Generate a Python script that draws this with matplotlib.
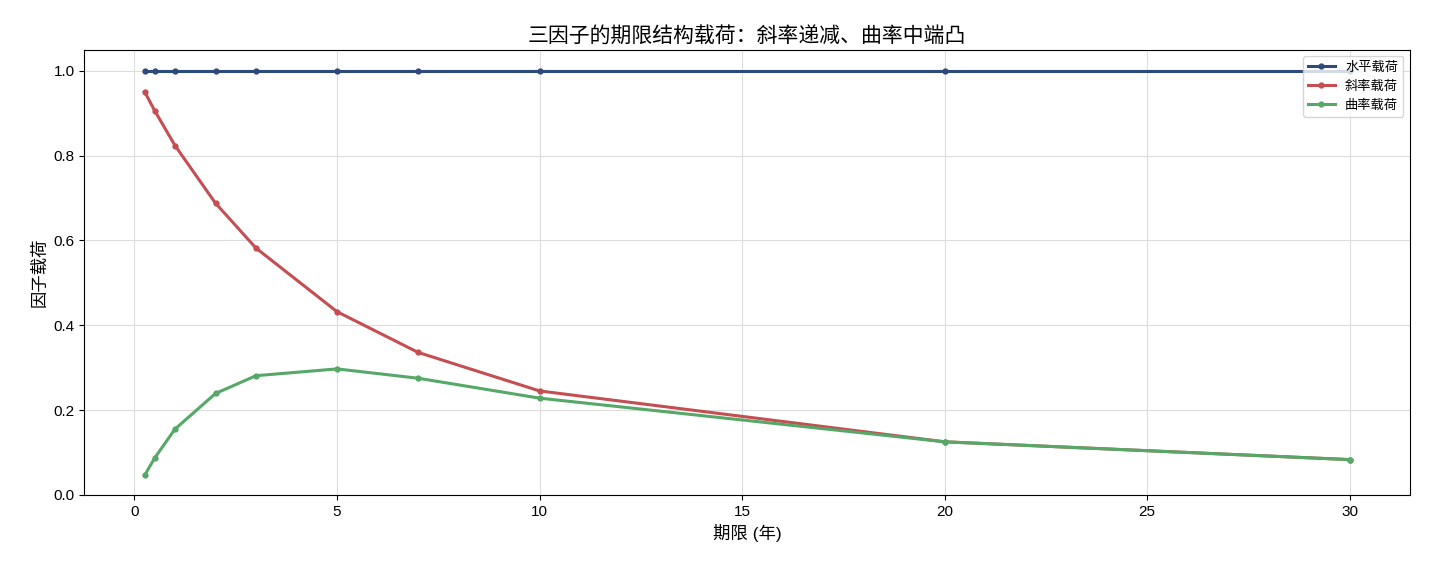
import matplotlib
matplotlib.use("Agg")
import matplotlib.pyplot as plt

# 期限 (年) and factor loadings
maturities = [0.25, 0.5, 1, 2, 3, 5, 7, 10, 20, 30]
level = [1.0, 1.0, 1.0, 1.0, 1.0, 1.0, 1.0, 1.0, 1.0, 1.0]
slope = [0.951, 0.906, 0.824, 0.688, 0.582, 0.432, 0.336, 0.245, 0.125, 0.083]
curvature = [0.046, 0.087, 0.155, 0.239, 0.281, 0.297, 0.275, 0.228, 0.125, 0.083]
labels = ["水平载荷", "斜率载荷", "曲率载荷"]

plt.rcParams['font.family'] = ['Liberation Sans', 'Noto Sans CJK SC', 'DejaVu Sans']
plt.rcParams['axes.unicode_minus'] = False

fig, ax = plt.subplots(figsize=(14.3, 5.72), dpi=100)
fig.subplots_adjust(left=0.059, right=0.986, top=0.913, bottom=0.135)

colors = ["#2E4A7D", "#C44E52", "#55A868"]
for series, lab, col in zip([level, slope, curvature], labels, colors):
    ax.plot(maturities, series, marker="o", markersize=3.5, linewidth=2.2,
            color=col, label=lab)

ax.set_ylim(0, 1.05)
ax.set_title("三因子的期限结构载荷：斜率递减、曲率中端凸", fontsize=15,
             family=['Noto Sans CJK SC', 'DejaVu Sans'])
ax.set_xlabel("期限 (年)", fontsize=12.5)
ax.set_ylabel("因子载荷", fontsize=12.5)
ax.tick_params(labelsize=11)
ax.grid(True, color="#dddddd", linewidth=0.8)
ax.set_axisbelow(True)
ax.legend(loc="upper right", fontsize=9.5)

fig.savefig("out.png")
